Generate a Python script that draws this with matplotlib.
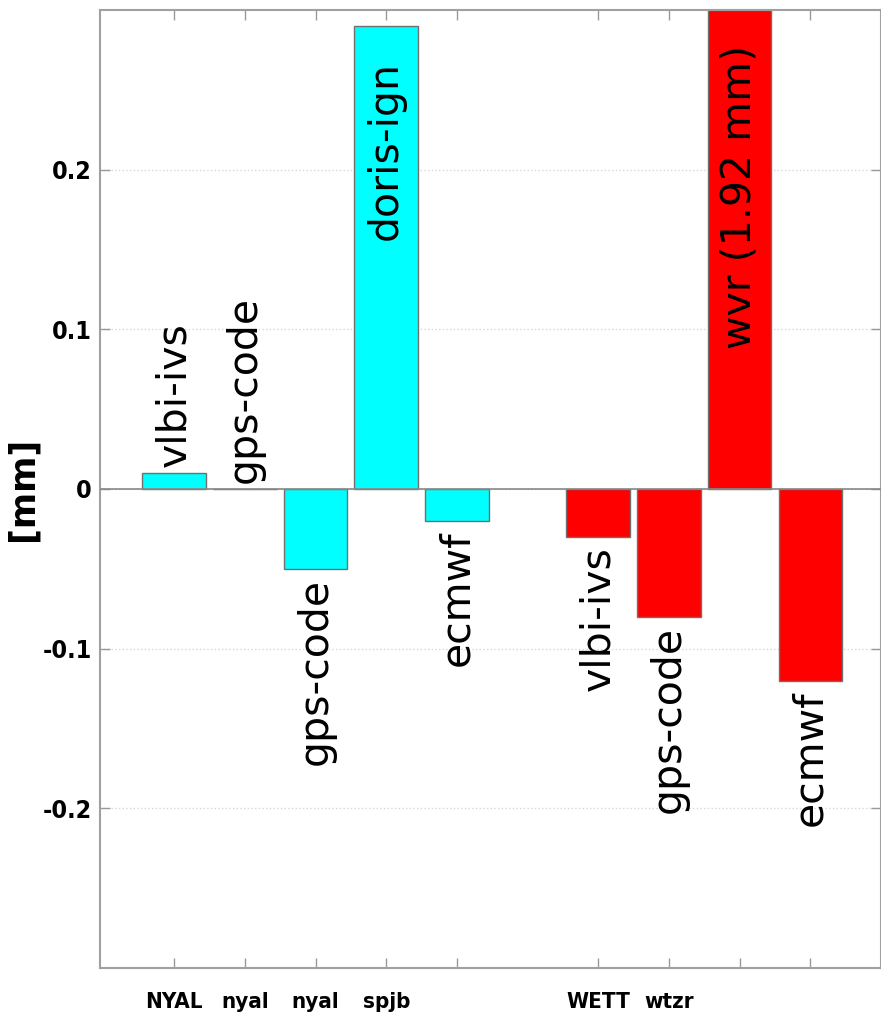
import matplotlib
matplotlib.use('Agg')
import matplotlib.pyplot as plt
from matplotlib import font_manager

# Data
cyan_labels = ['vlbi-ivs', 'gps-code', 'gps-code', 'doris-ign', 'ecmwf']
cyan_values = [0.01, 0.0, -0.05, 0.29, -0.02]
red_labels = ['vlbi-ivs', 'gps-code', 'wvr (1.92 mm)', 'ecmwf']
red_values = [-0.03, -0.08, 1.92, -0.12]

cyan_slots = [1, 2, 3, 4, 5]
red_slots = [7, 8, 9, 10]
tick_slots = [1, 2, 3, 4, 5, 7, 8, 9, 10]
tick_names = ['NYAL', 'nyal', 'nyal', 'spjb', '', 'WETT', 'wtzr', '', '']
yticks = [-0.2, -0.1, 0, 0.1, 0.2]

# look for a condensed / narrow bold face for the tick labels
narrow_file = None
for f in font_manager.fontManager.ttflist:
    fn = f.fname.lower()
    if ('condensed' in fn or 'narrow' in fn) and 'bold' in fn and 'oblique' not in fn and 'italic' not in fn:
        narrow_file = f.fname
        break
if narrow_file:
    tick_font = font_manager.FontProperties(fname=narrow_file)
else:
    tick_font = font_manager.FontProperties(family='DejaVu Sans', weight='bold')

fig = plt.figure(figsize=(8.81, 10.28), dpi=100)
ax = fig.add_axes([100 / 881, 60 / 1028, 781 / 881, 958 / 1028])

width = 0.9
ax.bar(cyan_slots, cyan_values, width, color='#00ffff', edgecolor='#707070', linewidth=1, zorder=2)
ax.bar(red_slots, red_values, width, color='#ff0000', edgecolor='#707070', linewidth=1, zorder=2)
ax.axhline(0, color='#888888', linewidth=1.2, zorder=3)

ax.set_xlim(-0.05, 11.0)
ax.set_ylim(-0.3, 0.3)
top = ax.get_ylim()[1]

# Bar labels
def put_labels(slots, values, labels):
    for x, v, lab in zip(slots, values, labels):
        if v > 0.2:
            y, va = min(v, top) - 0.022, 'top'
        elif v >= 0:
            y, va = v + 0.004, 'bottom'
        else:
            y, va = v - 0.006, 'top'
        ax.text(x, y, lab, rotation=90, ha='center', va=va,
                fontsize=29.5, family='DejaVu Sans', color='black', zorder=4)

put_labels(cyan_slots, cyan_values, cyan_labels)
put_labels(red_slots, red_values, red_labels)

# Axes, ticks, grid
ax.set_xticks(tick_slots)
ax.set_xticklabels(tick_names)
ax.set_yticks(yticks)
ax.set_yticklabels(['-0.2', '-0.1', '0', '0.1', '0.2'])
for t in ax.get_xticklabels():
    t.set_fontproperties(tick_font)
    t.set_fontsize(16)
for t in ax.get_yticklabels():
    t.set_fontproperties(tick_font)
    t.set_fontsize(18)
ax.tick_params(axis='both', direction='in', length=7, width=1, color='#999999',
               top=True, right=True)
ax.tick_params(axis='x', pad=17)
ax.tick_params(axis='y', pad=6)
for s in ax.spines.values():
    s.set_color('#a0a0a0')
    s.set_linewidth(1.5)

ax.yaxis.grid(True, linestyle=':', color='#d8d8d8', linewidth=1, zorder=0)
ax.set_axisbelow(True)

ax.set_ylabel('[mm]', family='DejaVu Sans', fontweight='bold', fontsize=25)
ax.yaxis.set_label_coords(-0.078, 0.5)

fig.savefig('out.png', dpi=100)
